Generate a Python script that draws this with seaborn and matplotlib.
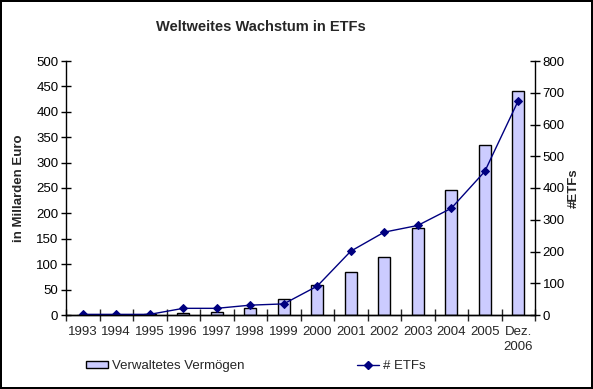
import matplotlib
matplotlib.use("Agg")
import matplotlib.pyplot as plt
import seaborn as sns
import pandas as pd
from matplotlib.patches import Patch
from matplotlib.lines import Line2D

categories = ["1993", "1994", "1995", "1996", "1997", "1998", "1999",
              "2000", "2001", "2002", "2003", "2004", "2005", "Dez.\n2006"]
assets = [0.5, 0.5, 1, 4, 6, 13, 31, 59, 84, 114, 171, 247, 334, 440]
etfs = [2, 2, 2, 21, 21, 31, 35, 91, 201, 261, 282, 336, 452, 675]
left_ticks = list(range(0, 501, 50))
right_ticks = list(range(0, 801, 100))

sns.set_style("ticks")
plt.rcParams["font.family"] = ["Liberation Sans", "DejaVu Sans"]

df = pd.DataFrame({"cat": categories, "assets": assets, "etfs": etfs})

fig = plt.figure(figsize=(5.93, 3.89), dpi=100)
fig.patch.set_facecolor("white")
fig.patch.set_edgecolor("black")
fig.patch.set_linewidth(1.5)

ax = fig.add_axes([66/593, 1-315/389, (535-66)/593, (315-61)/389])
sns.barplot(data=df, x="cat", y="assets", ax=ax, color="#CCCCFF",
            edgecolor="black", linewidth=1.0, width=0.37, saturation=1)
ax.set_xlim(-0.5, len(categories)-0.5)
ax.set_ylim(0, 500)
ax.set_yticks(left_ticks)
ax.set_xlabel("")
ax.set_ylabel("in Millarden Euro", fontsize=9.5, fontweight="bold", labelpad=8)

ax2 = ax.twinx()
sns.lineplot(data=df, x="cat", y="etfs", ax=ax2, color="#000080",
             marker="D", markersize=4.5, markeredgecolor="#000080",
             linewidth=1.0, sort=False)
ax2.set_ylim(0, 800)
ax2.set_yticks(right_ticks)
ax2.set_xlim(-0.5, len(categories)-0.5)
ax2.set_ylabel("#ETFs", fontsize=9.5, fontweight="bold", labelpad=2)
ax2.set_xlabel("")

for a in (ax, ax2):
    a.spines["top"].set_visible(False)
    for s in ("left", "right", "bottom"):
        a.spines[s].set_color("black")
        a.spines[s].set_linewidth(1.0)
    a.tick_params(axis="y", direction="inout", length=7, width=1,
                  labelsize=9.5, colors="black", pad=2)

ax.spines["right"].set_visible(False)
ax2.spines["left"].set_visible(False)

ax.set_xticks(range(len(categories)))
ax.set_xticklabels(categories)
ax.tick_params(axis="x", which="major", length=0, labelsize=9.5, pad=8)
ax.set_xticks([i - 0.5 for i in range(len(categories)+1)], minor=True)
ax.tick_params(axis="x", which="minor", direction="inout", length=8, width=1)
for lbl in ax.get_xticklabels():
    lbl.set_verticalalignment("top")
    lbl.set_linespacing(1.3)

fig.text(261/593, 1-27/389, "Weltweites Wachstum in ETFs", ha="center",
         va="center", fontsize=10.5, fontweight="bold")

handles = [Patch(facecolor="#CCCCFF", edgecolor="black", linewidth=1.0),
           Line2D([0], [0], color="#000080", marker="D", markersize=4,
                  linewidth=1.0)]
fig.legend(handles, ["Verwaltetes Vermögen", "# ETFs"], loc="center",
           bbox_to_anchor=(256/593, 1-366/389), ncol=2, frameon=False,
           fontsize=9.5, columnspacing=8.5, handlelength=1.7,
           handletextpad=0.3, handleheight=0.5)

fig.savefig("out.png", dpi=100, facecolor=fig.get_facecolor(),
            edgecolor=fig.get_edgecolor())
